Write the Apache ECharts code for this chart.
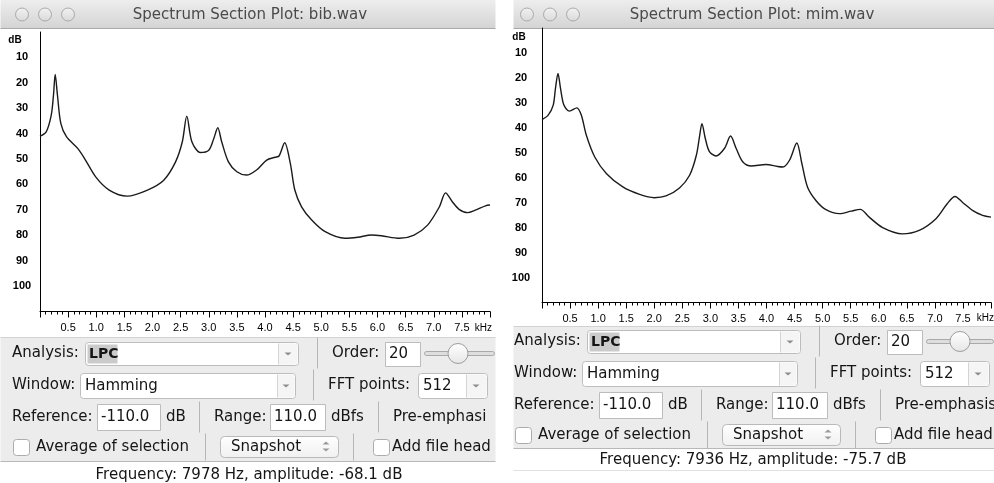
<!DOCTYPE html>
<html>
<head>
<meta charset="utf-8">
<script src="https://cdn.jsdelivr.net/npm/echarts@6/dist/echarts.min.js"></script>
<style>
  html, body { margin: 0; padding: 0; background: #fff; }
  #chart { width: 994px; height: 483px; }
</style>
</head>
<body>
<div id="chart"></div>
<script>
// LPC spectrum of bib.wav (kHz, dB below reference)
const bibFreq = [0, 0.11, 0.2, 0.24, 0.27, 0.31, 0.37, 0.47, 0.67, 0.79, 0.99, 1.23, 1.55, 1.91, 2.2, 2.41, 2.53, 2.61, 2.7, 2.85, 3.0, 3.09, 3.16, 3.23, 3.35, 3.5, 3.67, 3.85, 4.03, 4.18, 4.25, 4.35, 4.45, 4.53, 4.65, 4.83, 5.07, 5.42, 5.65, 5.89, 6.07, 6.39, 6.65, 6.89, 7.1, 7.21, 7.33, 7.45, 7.6, 7.74, 7.92, 8.0];
const bibDb = [41, 39.3, 32.7, 24.8, 16.7, 24.8, 36, 41.2, 45.8, 49.7, 57, 62.2, 64.6, 62.2, 58.3, 51.1, 43.2, 33.1, 43.2, 47.4, 46.5, 41.9, 37.7, 43.2, 51.1, 55, 56.3, 54.3, 50.4, 49.3, 48.8, 43.6, 51.7, 62.2, 68.8, 74, 78.6, 81.2, 80.8, 79.9, 80.2, 81.2, 79.9, 76, 68.8, 63.3, 66.8, 69.8, 71.1, 70.1, 68.4, 68.1];

// LPC spectrum of mim.wav
const mimFreq = [0, 0.11, 0.2, 0.24, 0.285, 0.33, 0.39, 0.49, 0.62, 0.7, 0.79, 0.94, 1.15, 1.44, 1.74, 2.0, 2.21, 2.45, 2.63, 2.75, 2.81, 2.85, 2.91, 2.98, 3.1, 3.25, 3.36, 3.46, 3.58, 3.73, 3.99, 4.2, 4.29, 4.41, 4.54, 4.63, 4.73, 4.88, 5.06, 5.3, 5.51, 5.67, 5.83, 6.07, 6.42, 6.72, 7.02, 7.22, 7.36, 7.49, 7.67, 7.85, 8.0];
const mimDb = [36.7, 34.9, 30.9, 24.2, 18.2, 24.2, 30.9, 33.3, 32, 34.9, 43, 51.7, 58.4, 63.7, 66.7, 68, 67.3, 64.1, 59, 51, 43, 38.3, 44.3, 49.4, 51.3, 48.3, 43.3, 48.3, 53.7, 55.3, 54.7, 55.5, 55.7, 53, 46.1, 54.3, 63.7, 69.1, 72.8, 74.4, 73.4, 72.7, 75.8, 80, 82.5, 81.1, 76.4, 70.4, 67.5, 69.8, 73.1, 75.1, 75.8];

const titles = ["Spectrum Section Plot: bib.wav", "Spectrum Section Plot: mim.wav"];
const statusTexts = ["Frequency: 7978 Hz, amplitude: -68.1 dB", "Frequency: 7936 Hz, amplitude: -75.7 dB"];

const FONT = "'DejaVu Sans', sans-serif";
const AXFONT = "'Liberation Sans', Arial, sans-serif";

function T(x, y, s, o) {
  o = o || {};
  return {
    type: "text", x: x, y: y, silent: true,
    style: {
      text: s,
      font: (o.bold ? "bold " : "") + (o.size || 15) + "px " + (o.family || FONT),
      fill: o.color || "#151515",
      align: o.align || "left",
      verticalAlign: "middle",
    },
  };
}
function R(x, y, w, h, fill, stroke, r) {
  return {
    type: "rect", silent: true,
    shape: { x: x + 0.5, y: y + 0.5, width: w, height: h, r: r || 0 },
    style: { fill: fill, stroke: stroke || null, lineWidth: stroke ? 1 : 0 },
  };
}
function L(x1, y1, x2, y2, c) {
  return {
    type: "line", silent: true,
    shape: { x1: x1 + 0.5, y1: y1 + 0.5, x2: x2 + 0.5, y2: y2 + 0.5 },
    style: { stroke: c || "#b6b6b6", lineWidth: 1 },
  };
}
function tri(cx, cy, up, c) {
  const w = 3.5, h = 3;
  const pts = up
    ? [[cx - w, cy + h / 2], [cx + w, cy + h / 2], [cx, cy - h / 2]]
    : [[cx - w, cy - h / 2], [cx + w, cy - h / 2], [cx, cy + h / 2]];
  return { type: "polygon", silent: true, shape: { points: pts }, style: { fill: c || "#8d8d8d" } };
}
function grad(a, b) {
  return new echarts.graphic.LinearGradient(0, 0, 0, 1, [
    { offset: 0, color: a },
    { offset: 1, color: b },
  ]);
}

// one mac window: chrome + control panel
function windowEls(o) {
  const dx = o.dx, dy = o.dy;
  const X = (v) => v + dx, Y = (v) => v + dy;
  const els = [];
  // title bar
  els.push(R(o.x0, -1, o.x1 - o.x0, 29, grad("#eeeeee", "#d4d4d4")));
  els.push(L(o.x0, 28, o.x1, 28, "#a8a8a8"));
  o.lights.forEach((cx) => {
    els.push({
      type: "circle", silent: true,
      shape: { cx: cx, cy: 14.5, r: 6.5 },
      style: { fill: grad("#f2f2f2", "#d9d9d9"), stroke: "#a9a9a9", lineWidth: 1 },
    });
  });
  els.push(T(o.titleX, 15, o.title, { color: "#4a4a4a", align: "center" }));

  // control panel
  els.push(R(o.x0, o.panelTop, o.x1 - o.x0, o.panelBottom - o.panelTop, "#ececec"));
  els.push(L(o.x0, o.panelTop, o.x1, o.panelTop, "#d2d2d2"));
  els.push(L(o.x0, o.panelBottom, o.x1, o.panelBottom, "#b8b8b8"));

  // row 1
  els.push(T(X(12), Y(353), "Analysis:"));
  els.push(R(X(85), Y(342), 213, 23, "#fff", "#bdbdbd", 3));
  els.push(R(X(278), Y(343), 19, 21, "#f5f5f5"));
  els.push(L(X(278), Y(343), X(278), Y(364), "#d4d4d4"));
  els.push(tri(X(288), Y(354), false));
  els.push(R(X(87), Y(344), 30, 19, "#cbcbcb"));
  els.push(T(X(89), Y(354), "LPC", { bold: true, size: 14 }));
  els.push(L(X(317), Y(337), X(317), Y(368)));
  els.push(T(X(332), Y(353), "Order:"));
  els.push(R(X(385), Y(342), 35, 24, "#fff", "#bcbcbc"));
  els.push(T(X(389), Y(354), "20"));
  els.push(R(X(424), Y(351), o.x1 - X(424) - 1, 4, "#dedede", "#a9a9a9", 2));
  els.push({
    type: "circle", silent: true,
    shape: { cx: X(458), cy: Y(353.5), r: 10 },
    style: { fill: grad("#ffffff", "#e6e6e6"), stroke: "#9d9d9d", lineWidth: 1 },
  });

  // row 2
  els.push(T(X(12), Y(385), "Window:"));
  els.push(R(X(80), Y(373), 215, 25, "#fff", "#bdbdbd", 3));
  els.push(R(X(277), Y(374), 17, 23, "#f5f5f5"));
  els.push(L(X(277), Y(374), X(277), Y(397), "#d4d4d4"));
  els.push(tri(X(286), Y(386), false));
  els.push(T(X(85), Y(386), "Hamming"));
  els.push(L(X(313), Y(369), X(313), Y(400)));
  els.push(T(X(328), Y(385), "FFT points:"));
  els.push(R(X(418), Y(373), 69, 25, "#fff", "#bdbdbd", 3));
  els.push(R(X(466), Y(374), 20, 23, "#f5f5f5"));
  els.push(L(X(466), Y(374), X(466), Y(397), "#d4d4d4"));
  els.push(tri(X(476), Y(386), false));
  els.push(T(X(423), Y(386), "512"));

  // row 3
  els.push(T(X(12), Y(417), "Reference:"));
  els.push(R(X(97), Y(404), 63, 26, "#fff", "#bcbcbc"));
  els.push(T(X(101), Y(417), "-110.0"));
  els.push(T(X(166), Y(417), "dB"));
  els.push(L(X(199), Y(401), X(199), Y(432)));
  els.push(T(X(214), Y(417), "Range:"));
  els.push(R(X(270), Y(404), 55, 26, "#fff", "#bcbcbc"));
  els.push(T(X(274), Y(417), "110.0"));
  els.push(T(X(331), Y(417), "dBfs"));
  els.push(L(X(378), Y(401), X(378), Y(432)));
  els.push(T(X(393), Y(417), o.preText));

  // row 4
  els.push(R(X(13), Y(439), 16, 16, "#fff", "#acacac", 3));
  els.push(T(X(36), Y(447), "Average of selection"));
  els.push(L(X(205), Y(433), X(205), Y(460)));
  els.push(R(X(220), Y(436), 118, 21, grad("#ffffff", "#f0f0f0"), "#b9b9b9", 4));
  els.push(T(X(266), Y(447), "Snapshot", { align: "center" }));
  els.push(tri(X(326), Y(443), true, "#9a9a9a"));
  els.push(tri(X(326), Y(450), false, "#9a9a9a"));
  els.push(L(X(353), Y(433), X(353), Y(460)));
  els.push(R(X(373), Y(439), 16, 16, "#fff", "#acacac", 3));
  els.push(T(X(392), Y(447), "Add file head"));

  // status line
  els.push(T(o.statusX, o.statusY, o.status, { align: "center" }));
  if (o.statusLine) els.push(L(o.x0, o.statusLine, o.x1, o.statusLine, "#e2e2e2"));
  return els;
}

function mkX(idx) {
  return {
    type: "value", gridIndex: idx, min: 0, max: 8, interval: 0.5,
    axisLine: { show: true, onZero: false, lineStyle: { color: "#000", width: 1 } },
    axisTick: { show: true, length: 6, lineStyle: { color: "#000" } },
    minorTick: { show: true, splitNumber: 5, length: 3, lineStyle: { color: "#000" } },
    splitLine: { show: false },
    minorSplitLine: { show: false },
    axisLabel: {
      margin: 11, fontSize: 11, color: "#000", fontFamily: AXFONT,
      formatter: (v) => (v === 0 || v === 8 ? "" : v.toFixed(1)),
    },
  };
}
function mkY(idx, margin) {
  return {
    type: "value", gridIndex: idx, inverse: true, min: 0, max: 110, interval: 10,
    axisLine: { show: true, lineStyle: { color: "#000", width: 1 } },
    axisTick: { show: false },
    splitLine: { show: false },
    axisLabel: {
      margin: margin, align: "center", fontSize: 11, fontWeight: "bold", color: "#000", fontFamily: AXFONT,
      formatter: (v) => (v === 0 || v === 110 ? "" : String(v)),
    },
  };
}
function mkSeries(idx, freq, db) {
  return {
    type: "line", xAxisIndex: idx, yAxisIndex: idx,
    data: freq.map((f, i) => [f, db[i]]),
    symbol: "none", smooth: 0.3, silent: true,
    lineStyle: { color: "#1b1b1b", width: 1.4 },
  };
}

const graphicEls = []
  .concat(windowEls({
    x0: 0, x1: 495, dx: 0, dy: 0, lights: [22, 45, 68],
    title: titles[0], titleX: 250, panelTop: 337, panelBottom: 461,
    status: statusTexts[0], statusX: 249, statusY: 475, preText: "Pre-emphasi",
  }))
  .concat(windowEls({
    x0: 513, x1: 994, dx: 502, dy: -12, lights: [527, 550, 573],
    title: titles[1], titleX: 752, panelTop: 326, panelBottom: 448,
    status: statusTexts[1], statusX: 753, statusY: 460, statusLine: 470, preText: "Pre-emphasis",
  }))
  .concat([
    T(15, 40, "dB", { size: 10, bold: true, family: AXFONT, color: "#000", align: "center" }),
    T(519, 37, "dB", { size: 10, bold: true, family: AXFONT, color: "#000", align: "center" }),
    T(492, 328, "kHz", { size: 10, family: AXFONT, color: "#000", align: "right" }),
    T(994, 318, "kHz", { size: 10, family: AXFONT, color: "#000", align: "right" }),
  ]);

const chart = echarts.init(document.getElementById("chart"), null, { renderer: "canvas" });
const option = {
  animation: false,
  backgroundColor: "#fff",
  grid: [
    { left: 40, top: 32, width: 450, height: 279.5 },
    { left: 542, top: 28, width: 450, height: 274.5 },
  ],
  xAxis: [mkX(0), mkX(1)],
  yAxis: [mkY(0, 18), mkY(1, 21)],
  series: [mkSeries(0, bibFreq, bibDb), mkSeries(1, mimFreq, mimDb)],
  graphic: { elements: graphicEls },
};
option && chart.setOption(option);
</script>
</body>
</html>
